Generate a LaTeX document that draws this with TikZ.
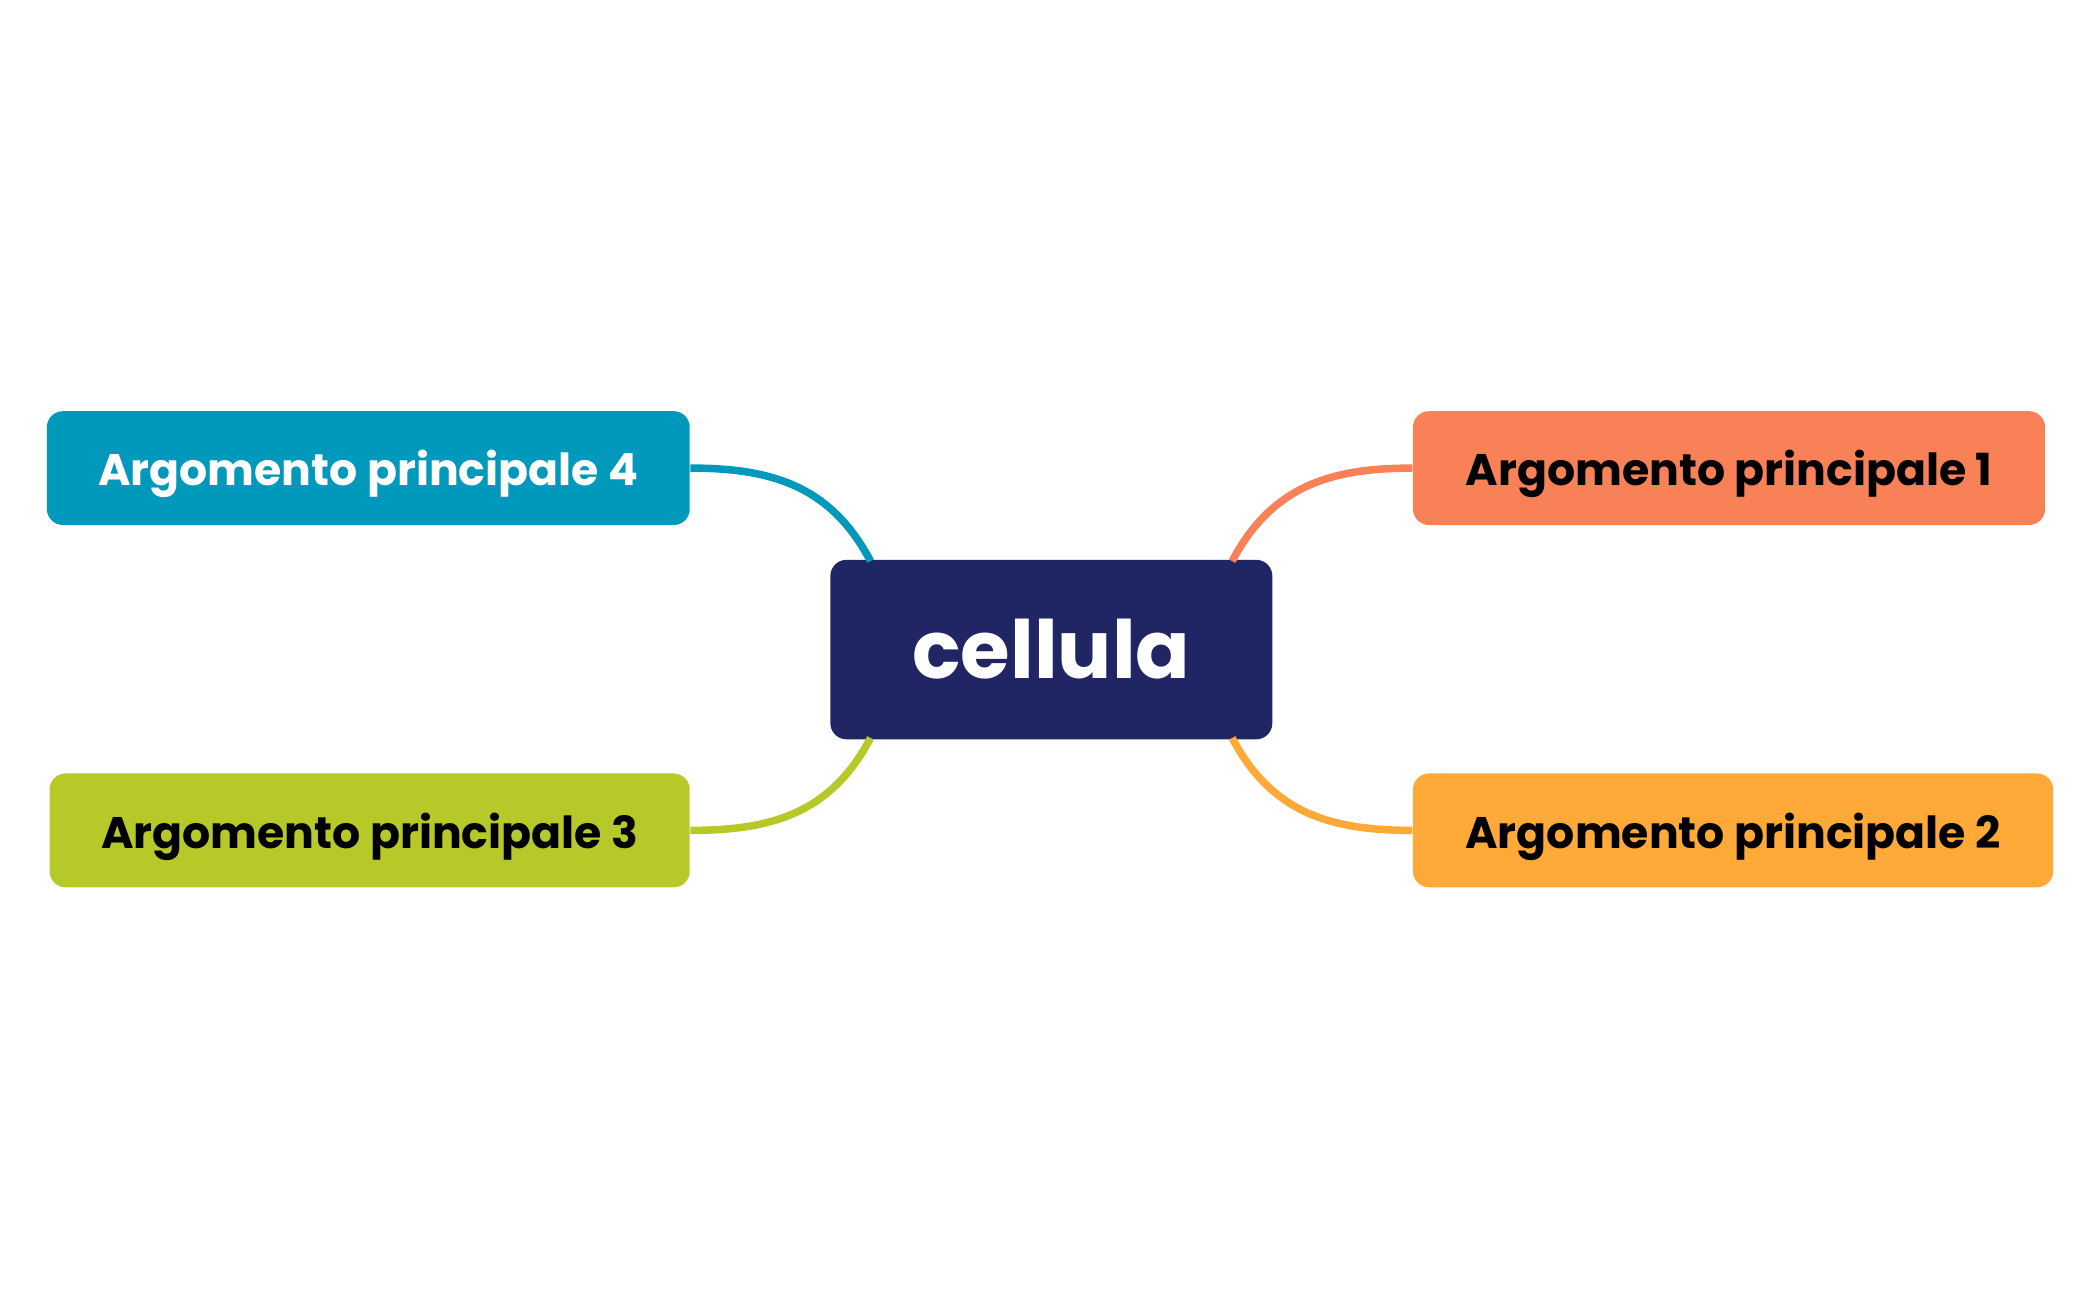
\documentclass[tikz,border=0pt]{standalone}
\usepackage{fontspec}
\setmainfont{Poppins}
\definecolor{navy}{HTML}{202563}
\definecolor{cteal}{HTML}{0099BB}
\definecolor{corange}{HTML}{F98158}
\definecolor{cgreen}{HTML}{B7C928}
\definecolor{cyellow}{HTML}{FFAA38}
\begin{document}
\begin{tikzpicture}[x=0.5pt,y=-0.5pt,
  topic/.style={rounded corners=6pt,minimum width=240pt,minimum height=42.5pt,font=\fontsize{16.5}{20}\selectfont\bfseries,inner sep=0pt,text depth=-1.5pt},
  link/.style={line width=2.8pt}]
\useasboundingbox (0,0) rectangle (1568,970);
\node[fill=navy,rounded corners=6pt,minimum width=165pt,minimum height=67pt,text=white,font=\fontsize{30}{34}\selectfont\bfseries,inner sep=0pt] (c) at (785,485) {\raisebox{-2pt}{cellula}\hspace{8pt}};
\node[topic,fill=cteal,text=white] (t4) at (275,349.5) {Argomento principale 4};
\node[topic,fill=corange,minimum width=236pt] (t1) at (1291,349.5) {Argomento principale 1};
\node[topic,fill=cgreen,minimum width=239pt] (t3) at (276,620) {Argomento principale 3};
\node[topic,fill=cyellow,minimum width=239pt] (t2) at (1294,620) {Argomento principale 2};
\coordinate (a4) at (650,419);
\coordinate (a1) at (920,419);
\coordinate (a3) at (650,551);
\coordinate (a2) at (920,551);
\draw[link,cteal] (a4) .. controls (620,362) and (575,349.5) .. (t4.east);
\draw[link,corange] (a1) .. controls (950,362) and (995,349.5) .. (t1.west);
\draw[link,cgreen] (a3) .. controls (620,608) and (575,620) .. (t3.east);
\draw[link,cyellow] (a2) .. controls (950,608) and (995,620) .. (t2.west);
\end{tikzpicture}
\end{document}
